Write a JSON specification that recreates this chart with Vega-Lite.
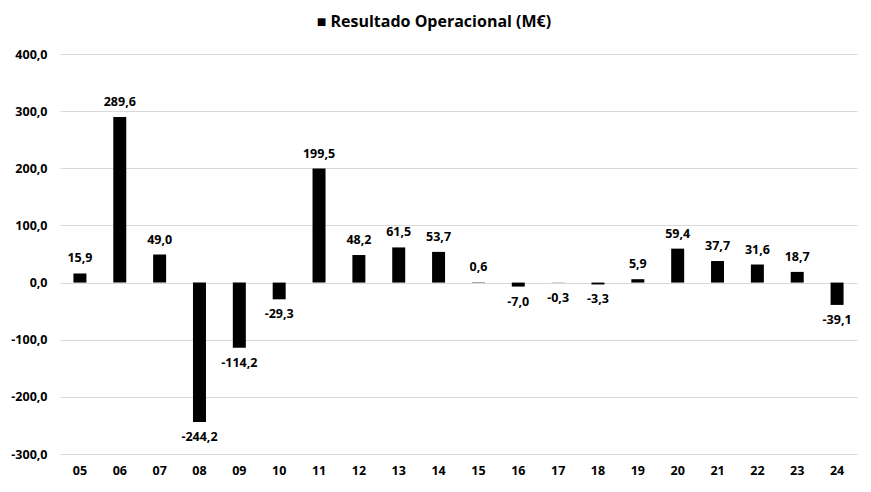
{
  "$schema": "https://vega.github.io/schema/vega-lite/v6.json",
  "autosize": "none",
  "width": 797,
  "height": 400,
  "padding": {"left": 60, "top": 54, "right": 14, "bottom": 38},
  "background": "white",
  "title": {
    "text": "■ Resultado Operacional (M€)",
    "anchor": "middle",
    "frame": "bounds",
    "offset": 18,
    "font": "Open Sans",
    "fontSize": 16,
    "fontWeight": "bold",
    "color": "black"
  },
  "data": {
    "values": [
      {"ano": "05", "valor": 15.9},
      {"ano": "06", "valor": 289.6},
      {"ano": "07", "valor": 49.0},
      {"ano": "08", "valor": -244.2},
      {"ano": "09", "valor": -114.2},
      {"ano": "10", "valor": -29.3},
      {"ano": "11", "valor": 199.5},
      {"ano": "12", "valor": 48.2},
      {"ano": "13", "valor": 61.5},
      {"ano": "14", "valor": 53.7},
      {"ano": "15", "valor": 0.6},
      {"ano": "16", "valor": -7.0},
      {"ano": "17", "valor": -0.3},
      {"ano": "18", "valor": -3.3},
      {"ano": "19", "valor": 5.9},
      {"ano": "20", "valor": 59.4},
      {"ano": "21", "valor": 37.7},
      {"ano": "22", "valor": 31.6},
      {"ano": "23", "valor": 18.7},
      {"ano": "24", "valor": -39.1}
    ]
  },
  "encoding": {
    "x": {
      "field": "ano",
      "type": "ordinal",
      "sort": null,
      "title": null,
      "scale": {"paddingInner": 0.674},
      "axis": {"labelAngle": 0, "domain": false, "ticks": false, "labelPadding": 10}
    },
    "y": {
      "field": "valor",
      "type": "quantitative",
      "title": null,
      "scale": {"domain": [-300, 400], "nice": false},
      "axis": {"values": [-300, -200, -100, 0, 100, 200, 300, 400], "format": ".1f", "domain": false, "ticks": false, "labelPadding": 13}
    }
  },
  "layer": [
    {"mark": {"type": "bar", "color": "black"}},
    {
      "transform": [{"filter": "datum.valor >= 0"}],
      "mark": {"type": "text", "baseline": "middle", "dy": -15, "font": "Open Sans", "fontSize": 12.5, "fontWeight": "bold", "color": "black"},
      "encoding": {"text": {"field": "valor", "type": "quantitative", "format": ".1f"}}
    },
    {
      "transform": [{"filter": "datum.valor < 0"}],
      "mark": {"type": "text", "baseline": "middle", "dy": 15, "font": "Open Sans", "fontSize": 12.5, "fontWeight": "bold", "color": "black"},
      "encoding": {"text": {"field": "valor", "type": "quantitative", "format": ".1f"}}
    }
  ],
  "config": {
    "locale": {"number": {"decimal": ",", "thousands": ".", "grouping": [3], "currency": ["", " €"], "minus": "-"}},
    "view": {"stroke": null},
    "axis": {
      "labelFont": "Open Sans",
      "labelFontSize": 12.5,
      "labelFontWeight": "bold",
      "labelColor": "black",
      "gridColor": "#d9d9d9",
      "gridWidth": 1
    },
    "axisX": {"grid": false}
  }
}
